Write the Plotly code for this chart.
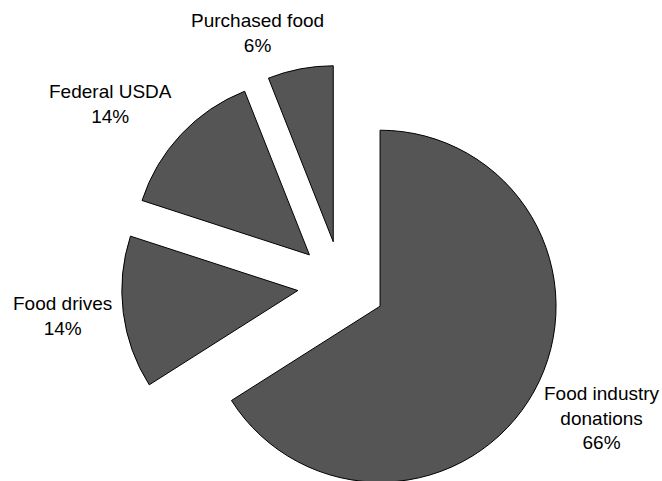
import plotly.graph_objects as go

# Sources of food distributed, share of total (%)
categories = ["Food industry donations", "Food drives", "Federal USDA", "Purchased food"]
label_lines = ["Food industry<br>donations", "Food drives", "Federal USDA", "Purchased food"]
shares = [66, 14, 14, 6]

# every slice is exploded by the same fraction of the radius
explode = [0.25, 0.25, 0.25, 0.25]

WIDTH, HEIGHT = 662, 505
radius = 176
center_x, center_y = 341.5, 285
box = 2 * radius * (1 + max(explode))

x_dom = [(center_x - box / 2) / WIDTH, (center_x + box / 2) / WIDTH]
y_dom = [0, box / HEIGHT]

FONT = dict(family="Arial, Liberation Sans, sans-serif", size=19, color="#000000")

fig = go.Figure(
    go.Pie(
        labels=categories,
        values=shares,
        textinfo="none",
        automargin=False,
        sort=False,
        direction="clockwise",
        rotation=0,
        pull=explode,
        marker=dict(colors=["#555555"] * 4, line=dict(color="#000000", width=1)),
        domain=dict(x=x_dom, y=y_dom),
        hoverinfo="skip",
    )
)

# category labels placed beside their slices (pixel centres of each text block)
label_anchor_px = [(602, 418), (62, 316), (110, 104), (257, 33)]
total = sum(shares)
for text, share, (px, py) in zip(label_lines, shares, label_anchor_px):
    fig.add_annotation(
        text=f"{text}<br>{round(100 * share / total)}%",
        xref="paper", yref="paper",
        x=px / WIDTH, y=1 - py / HEIGHT,
        xanchor="center", yanchor="middle", align="center",
        showarrow=False, font=FONT,
    )

fig.update_layout(
    width=WIDTH,
    height=HEIGHT,
    autosize=False,
    margin=dict(l=0, r=0, t=0, b=0, autoexpand=False),
    showlegend=False,
    paper_bgcolor="#ffffff",
    plot_bgcolor="#ffffff",
)

fig.write_html("out.html")
